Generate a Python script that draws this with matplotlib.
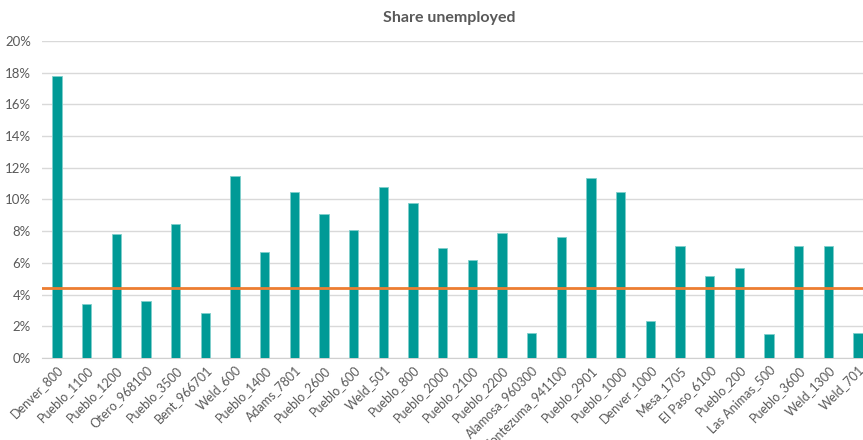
import matplotlib.pyplot as plt
from matplotlib.ticker import PercentFormatter, MultipleLocator

tracts = ["Denver_800", "Pueblo_1100", "Pueblo_1200", "Otero_968100", "Pueblo_3500",
          "Bent_966701", "Weld_600", "Pueblo_1400", "Adams_7801", "Pueblo_2600",
          "Pueblo_600", "Weld_501", "Pueblo_800", "Pueblo_2000", "Pueblo_2100",
          "Pueblo_2200", "Alamosa_960300", "Montezuma_941100", "Pueblo_2901",
          "Pueblo_1000", "Denver_1000", "Mesa_1705", "El Paso_6100", "Pueblo_200",
          "Las Animas_500", "Pueblo_3600", "Weld_1300", "Weld_701"]
unemployed = [0.1777, 0.0339, 0.0780, 0.0362, 0.0847,
              0.0284, 0.1150, 0.0669, 0.1049, 0.0910,
              0.0806, 0.1077, 0.0980, 0.0696, 0.0616,
              0.0791, 0.0156, 0.0763, 0.1136,
              0.1047, 0.0235, 0.0707, 0.0517, 0.0566,
              0.0151, 0.0709, 0.0707, 0.0158]
state_rate = 0.0440

grey = "#595959"
plt.rcParams["font.family"] = ["Lato", "DejaVu Sans"]

fig = plt.figure(figsize=(8.63, 4.40), dpi=100)
ax = fig.add_axes([0.0489, 0.1864, 0.9626, 0.7205])

x = list(range(len(tracts)))
ax.bar(x, unemployed, width=0.31, color="#009A96", edgecolor="#7fcfcc",
       linewidth=0.6, zorder=3)
ax.plot([-0.5, len(tracts) - 0.5], [state_rate, state_rate],
        color="#ED7D31", linewidth=2, zorder=4)

ax.set_xlim(-0.5, len(tracts) - 0.5)
ax.set_ylim(0, 0.20)
ax.yaxis.set_major_locator(MultipleLocator(0.02))
ax.yaxis.set_major_formatter(PercentFormatter(1.0, decimals=0))
ax.grid(axis="y", color="#d9d9d9", linewidth=1, zorder=0)

ax.set_xticks(x)
ax.set_xticklabels(tracts, rotation=45, ha="right", rotation_mode="anchor",
                   fontsize=9, color=grey)
ax.tick_params(axis="y", length=0, labelsize=9.5, labelcolor=grey, pad=8)
ax.tick_params(axis="x", length=0, pad=4)

for side in ("top", "right", "left"):
    ax.spines[side].set_visible(False)
ax.spines["bottom"].set_color("#d0d0d0")

fig.text(0.52, 0.96, "Share unemployed", ha="center", va="center",
         fontsize=11.5, fontweight="bold", color=grey)

fig.savefig("out.png", dpi=100)
